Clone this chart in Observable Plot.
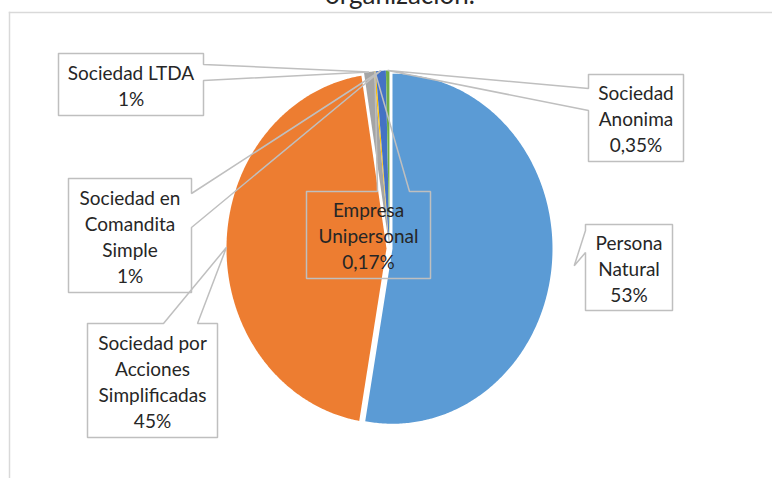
<!DOCTYPE html>
<html>
<head>
<meta charset="utf-8">
<script src="https://cdn.jsdelivr.net/npm/d3@7"></script>
<script src="https://cdn.jsdelivr.net/npm/@observablehq/plot@0.6"></script>
<style>
  html, body { margin: 0; padding: 0; background: #fff; overflow: hidden; }
  #wrap { position: relative; width: 772px; height: 478px; overflow: hidden; }
  #title { position: absolute; left: 0; width: 800px; text-align: center; top: -19px;
           font-family: Lato, "Liberation Sans", sans-serif; font-size: 26px; line-height: 26px; color: #262626; }
  #chart { position: absolute; left: 0; top: 0; }
</style>
</head>
<body>
<div id="wrap">
  <div id="chart"></div>
  <div id="title">organización.</div>
</div>
<script>
// ---- data ----
const categories = ["Persona Natural", "Sociedad por Acciones Simplificadas", "Sociedad LTDA",
                    "Empresa Unipersonal", "Sociedad en Comandita Simple", "Sociedad Anonima"];
const values = [53, 45, 1, 0.17, 1, 0.35];
const valueLabels = ["53%", "45%", "1%", "0,17%", "1%", "0,35%"];
const nameLines = [["Persona", "Natural"], ["Sociedad por", "Acciones", "Simplificadas"], ["Sociedad LTDA"],
                   ["Empresa", "Unipersonal"], ["Sociedad en", "Comandita", "Simple"], ["Sociedad", "Anonima"]];
const colors = ["#5B9BD5", "#ED7D31", "#A5A5A5", "#FFC000", "#4472C4", "#70AD47"];

// ---- layout (pixels) ----
const W = 772, H = 478;
const CX = 389, CY = 248, RX = 160, RY = 175, EXPLODE = 3;
const callouts = [
  {box: [585, 224, 672, 310], side: "left",  base: [230, 252], reach: 1.14},
  {box: [87, 323, 217, 437],  side: "top",   base: [163, 197], reach: 1.0},
  {box: [58, 53, 203, 115],   side: "right", base: [64, 80],   reach: 1.0},
  {box: [306, 191, 430, 278], side: "top",   base: [377, 409], reach: 1.0},
  {box: [68, 178, 191, 292],  side: "right", base: [193, 227], reach: 1.0},
  {box: [588, 74, 683, 161],  side: "left",  base: [88, 110],  reach: 1.0}
];
const FONT = 19, LINE_PX = 26;

// ---- geometry ----
const pie = d3.pie().sort(null).value(d => d)(values);
const ux = px => (px - CX) / RX;
const uy = py => (CY - py) / RY;

const sliceRows = pie.map((p, i) => {
  const mid = (p.startAngle + p.endAngle) / 2;
  const ex = EXPLODE * Math.sin(mid) / RX, ey = EXPLODE * Math.cos(mid) / RY;
  const n = Math.max(2, Math.ceil((p.endAngle - p.startAngle) / 0.01));
  const pts = [{x: ex, y: ey}];
  for (let k = 0; k <= n; k++) {
    const a = p.startAngle + (p.endAngle - p.startAngle) * k / n;
    pts.push({x: ex + Math.sin(a), y: ey + Math.cos(a)});
  }
  pts.push({x: ex, y: ey});
  return pts;
});

const calloutRows = callouts.map((c, i) => {
  const p = pie[i];
  const mid = (p.startAngle + p.endAngle) / 2;
  const ex = EXPLODE * Math.sin(mid) / RX, ey = EXPLODE * Math.cos(mid) / RY;
  const tip = {x: ex + c.reach * Math.sin(mid), y: ey + c.reach * Math.cos(mid)};
  const [x0, y0, x1, y1] = c.box;
  const [a, b] = c.base;
  const P = (px, py) => ({x: ux(px), y: uy(py)});
  let pts;
  if (c.side === "right") pts = [P(x0,y0), P(x1,y0), P(x1,a), tip, P(x1,b), P(x1,y1), P(x0,y1), P(x0,y0)];
  else if (c.side === "left") pts = [P(x0,y0), P(x1,y0), P(x1,y1), P(x0,y1), P(x0,b), tip, P(x0,a), P(x0,y0)];
  else pts = [P(x0,y0), P(a,y0), tip, P(b,y0), P(x1,y0), P(x1,y1), P(x0,y1), P(x0,y0)];
  return pts;
});

const labelRows = callouts.map((c, i) => ({
  x: ux((c.box[0] + c.box[2]) / 2),
  y: uy((c.box[1] + c.box[3]) / 2),
  text: nameLines[i].concat([valueLabels[i]]).join("\n")
}));

const chart = Plot.plot({
  width: W, height: H,
  marginLeft: 9, marginTop: 12, marginRight: 0, marginBottom: 0,
  style: {fontFamily: "Lato, 'Liberation Sans', sans-serif", background: "#fff"},
  x: {domain: [-1, 1], range: [CX - RX, CX + RX], axis: null},
  y: {domain: [-1, 1], range: [CY + RY, CY - RY], axis: null},
  marks: [
    Plot.frame({anchor: "left", stroke: "#D9D9D9", strokeWidth: 1.5}),
    Plot.frame({anchor: "top", stroke: "#D9D9D9", strokeWidth: 1.5}),
    ...sliceRows.map((rows, i) => Plot.line(rows, {x: "x", y: "y", fill: colors[i], stroke: "none", curve: "linear"})),
    ...calloutRows.map(rows => Plot.line(rows, {x: "x", y: "y", stroke: "#BFBFBF", strokeWidth: 1.5, fill: "none", curve: "linear", strokeLinejoin: "miter"})),
    Plot.text(labelRows, {x: "x", y: "y", text: "text", fontSize: FONT, lineHeight: LINE_PX / FONT,
      lineAnchor: "middle", textAnchor: "middle", fill: "#262626"})
  ]
});
document.getElementById("chart").appendChild(chart);
</script>
</body>
</html>
